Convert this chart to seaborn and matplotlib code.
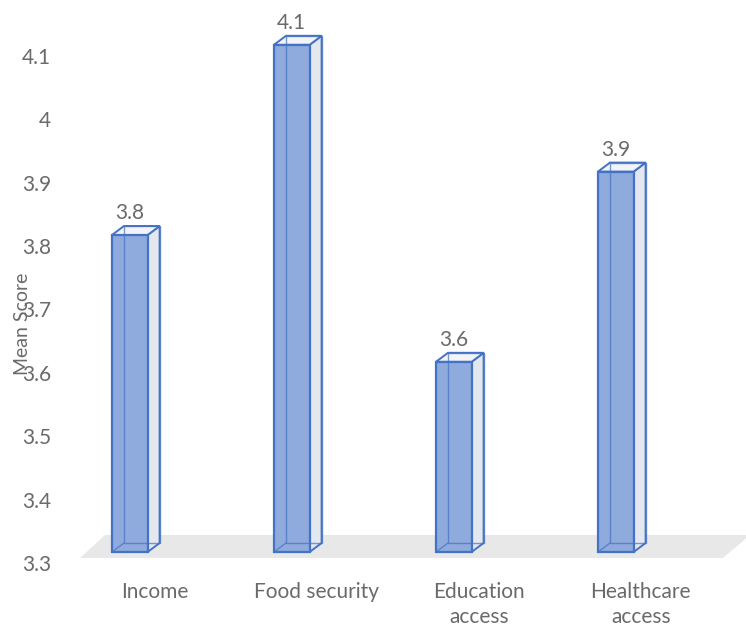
import matplotlib
matplotlib.use("Agg")
import matplotlib.pyplot as plt
import seaborn as sns
import pandas as pd
from matplotlib.patches import Polygon, Rectangle
from matplotlib.transforms import ScaledTranslation

# chart data
categories = ["Income", "Food security", "Education\naccess", "Healthcare\naccess"]
mean_scores = [3.8, 4.1, 3.6, 3.9]
y_ticks = [3.3, 3.4, 3.5, 3.6, 3.7, 3.8, 3.9, 4.0, 4.1]
y_tick_labels = ["3.3", "3.4", "3.5", "3.6", "3.7", "3.8", "3.9", "4", "4.1"]

df = pd.DataFrame({"category": categories, "score": mean_scores})

sns.set_style("white")
plt.rcParams["font.family"] = ["Lato", "DejaVu Sans"]

grey_txt = "#6a6a6a"
front_col = "#8FAADC"
edge_col = "#4472C4"
side_col = "#E3E7EE"
fsize = 15

fig = plt.figure(figsize=(7.46, 6.29), dpi=100)
ax = fig.add_axes([65 / 746, 1 - 563 / 629, 675 / 746, 543 / 629])

sns.barplot(data=df, x="category", y="score", color=front_col, width=0.22,
            saturation=1, ax=ax)

floor = 3.3
ax.set_ylim(floor, floor + 543 / 634)
ax.set_xlim(-0.40, -0.40 + 675 / 162)

fig.canvas.draw()
x0, y0 = ax.transData.transform((-0.40, floor))

# light grey floor under the columns
floor_poly = Polygon([(x0 + 15, y0 + 5), (x0 + 658, y0 + 5),
                      (x0 + 685, y0 + 28), (x0 + 40, y0 + 28)],
                     closed=True, transform=None, facecolor="#E8E8E8",
                     edgecolor="none", zorder=1, clip_on=False)
ax.add_artist(floor_poly)

lift = ScaledTranslation(0, 0.11, fig.dpi_scale_trans)
dx, dy = 12, 9  # depth of the fake 3d box, pixels

for patch, val in zip(ax.patches, mean_scores):
    xl = patch.get_x()
    w = patch.get_width()
    patch.set_y(floor)
    patch.set_height(val - floor)
    patch.set_transform(ax.transData + lift)
    patch.set_edgecolor(edge_col)
    patch.set_linewidth(1.6)
    patch.set_zorder(3)
    patch.set_clip_on(False)

    # front corners in pixels
    l, b = ax.transData.transform((xl, floor)) + [0, 11]
    r, t = ax.transData.transform((xl + w, val)) + [0, 11]
    # side face
    side = Polygon([(r, b), (r + dx, b + dy), (r + dx, t + dy), (r, t)],
                   transform=None, facecolor=side_col, edgecolor=edge_col,
                   linewidth=1.4, zorder=2, clip_on=False)
    # top face
    top = Polygon([(l, t), (l + dx, t + dy), (r + dx, t + dy), (r, t)],
                  transform=None, facecolor="#F2F4F8", edgecolor=edge_col,
                  linewidth=1.4, zorder=2, clip_on=False)
    # hidden back edges seen through the column
    back = Rectangle((l + dx, b + dy), r - l, t - b, transform=None,
                     facecolor="none", edgecolor=edge_col, linewidth=1.0,
                     alpha=0.7, zorder=4, clip_on=False)
    ax.add_artist(side)
    ax.add_artist(top)
    ax.add_artist(back)
    ax.plot([l, l + dx], [b, b + dy], color=edge_col, lw=1.0, alpha=0.7,
            transform=None, zorder=4, clip_on=False)

    ax.annotate(f"{val:.1f}", xy=(xl + w / 2, val), xytext=(0, 23),
                textcoords="offset pixels", ha="center", va="bottom",
                fontsize=fsize, color=grey_txt)

ax.set_yticks(y_ticks)
ax.set_yticklabels(y_tick_labels)
ax.tick_params(axis="y", length=0, pad=10, labelsize=fsize, labelcolor=grey_txt)
ax.tick_params(axis="x", length=0, pad=14, labelsize=fsize, labelcolor=grey_txt)
shift = ScaledTranslation(0.25, 0, fig.dpi_scale_trans)
for lab in ax.get_xticklabels():
    lab.set_transform(lab.get_transform() + shift)
    lab.set_linespacing(1.3)

ax.set_xlabel("")
ax.set_ylabel("Mean Score", fontsize=14, color=grey_txt)
ax.yaxis.set_label_coords(-0.05, 0.44)

for s in ax.spines.values():
    s.set_visible(False)

fig.savefig("out.png", dpi=100)
